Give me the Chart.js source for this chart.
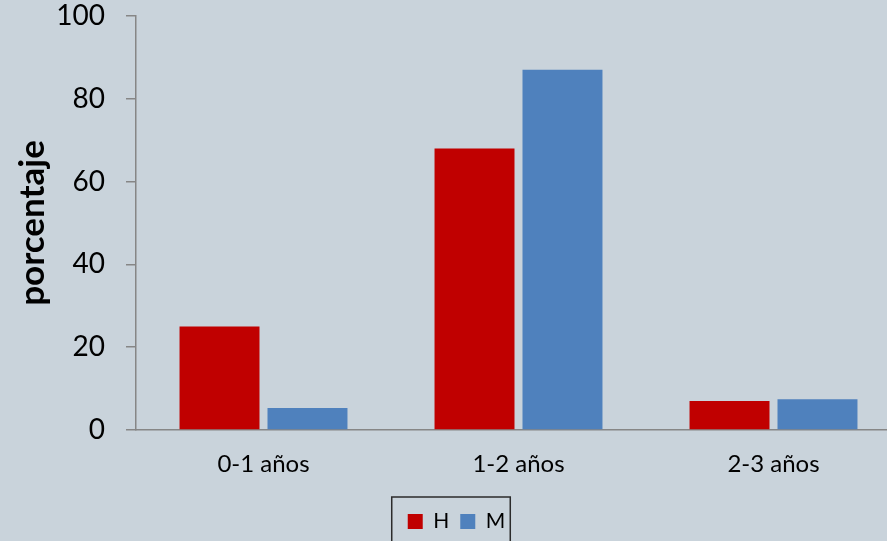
<!DOCTYPE html>
<html>
<head>
<meta charset="utf-8">
<script src="https://cdn.jsdelivr.net/npm/chart.js@4.4.0/dist/chart.umd.min.js"></script>
<style>
  html, body { margin: 0; padding: 0; background: #c9d3db; overflow: hidden; }
  #wrap { width: 887px; height: 541px; overflow: hidden; }
  canvas { display: block; }
</style>
</head>
<body>
<div id="wrap"><canvas id="chart" width="901" height="541"></canvas></div>
<script>
const categories = ['0-1 años', '1-2 años', '2-3 años'];
const hombres = [25, 68, 7];
const mujeres = [5.3, 87, 7.4];
const yTicks = [0, 20, 40, 60, 80, 100];

const BG = '#c9d3db';
const AXIS = '#868686';

// fill the canvas behind the chart
const background = {
  id: 'background',
  beforeDraw(chart) {
    const ctx = chart.ctx;
    ctx.save();
    ctx.fillStyle = BG;
    ctx.fillRect(0, 0, chart.width, chart.height);
    ctx.restore();
  }
};

// the original is cropped on the right, so the canvas is a bit wider
// than the window; put the legend back where it sits in the picture
const legendShift = {
  id: 'legendShift',
  afterLayout(chart) {
    const lg = chart.legend;
    const dx = 6, dy = 1;
    lg.left += dx; lg.right += dx;
    lg.top += dy; lg.bottom += dy;
  }
};

// thin dark frame around the legend items
const legendFrame = {
  id: 'legendFrame',
  afterDraw(chart) {
    const boxes = chart.legend.legendHitBoxes;
    if (!boxes || !boxes.length) return;
    const first = boxes[0];
    const last = boxes[boxes.length - 1];
    const cy = first.top + first.height / 2;
    const ctx = chart.ctx;
    const x0 = first.left - 16;
    const x1 = last.left + last.width + 5;
    ctx.save();
    ctx.strokeStyle = '#2b2b2b';
    ctx.lineWidth = 1.5;
    ctx.strokeRect(x0, cy - 24.5, x1 - x0, 80);
    ctx.restore();
  }
};

new Chart(document.getElementById('chart'), {
  type: 'bar',
  data: {
    labels: categories,
    datasets: [
      { label: 'H', data: hombres, backgroundColor: '#c00000', borderWidth: 0 },
      { label: 'M', data: mujeres, backgroundColor: '#4f81bd', borderWidth: 0 }
    ]
  },
  options: {
    responsive: false,
    animation: false,
    categoryPercentage: 0.69,
    barPercentage: 0.909,
    layout: { padding: { top: 16, right: 0, bottom: 0, left: 0 } },
    plugins: {
      legend: {
        position: 'bottom',
        labels: {
          font: { family: 'Lato', size: 21 },
          color: '#000',
          boxWidth: 15,
          boxHeight: 15,
          padding: 11
        }
      },
      tooltip: { enabled: false }
    },
    scales: {
      x: {
        grid: { display: true, drawOnChartArea: false, drawTicks: false },
        border: { color: AXIS, width: 1.5 },
        ticks: { font: { family: 'Lato', size: 24 }, color: '#000', padding: 20 },
        afterFit(s) {
          s.height = 69;
          s.paddingLeft = 0;
          s.paddingRight = 0;
        }
      },
      y: {
        min: 0,
        max: 100,
        afterBuildTicks(s) { s.ticks = yTicks.map(v => ({ value: v })); },
        grid: { drawOnChartArea: false, tickLength: 10, color: AXIS, lineWidth: 1.5 },
        border: { color: AXIS, width: 1.5 },
        ticks: { font: { family: 'Lato', size: 28 }, color: '#000', padding: 21 },
        title: {
          display: true,
          text: 'porcentaje',
          font: { family: 'Lato', size: 35, weight: 'bold' },
          color: '#000',
          padding: { top: 12, bottom: 0 }
        },
        afterFit(s) {
          s.width = 136;
          s.paddingTop = 0;
          s.paddingBottom = 0;
        }
      }
    }
  },
  plugins: [background, legendShift, legendFrame]
});
</script>
</body>
</html>
